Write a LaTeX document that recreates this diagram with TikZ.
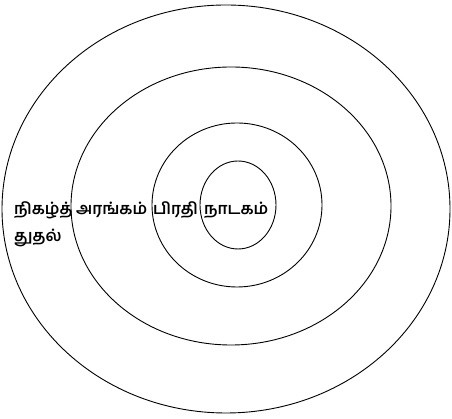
\documentclass[tikz,border=0pt]{standalone}
\usepackage{fontspec}
\newfontfamily\tamilfont[Script=Tamil]{Hind Madurai}
\begin{document}
\begin{tikzpicture}[x=1pt,y=1pt,
  ring/.style={draw=black,line width=0.9pt},
  lbl/.style={font=\tamilfont\bfseries\fontsize{16}{18}\selectfont,inner sep=0pt,anchor=west}]
\useasboundingbox (0,0) rectangle (452,419);
\draw[ring] (226,210) ellipse [x radius=224, y radius=204];
\draw[ring] (231,213) ellipse [x radius=160, y radius=139];
\draw[ring] (237,214) ellipse [x radius=85, y radius=82];
\draw[ring] (238,214) ellipse [x radius=38, y radius=44];
\node[lbl] (n1) at (14,209) {நிகழ்த்};
\node[lbl] (n2) at (14,181) {துதல்};
\node[lbl] (n3) at (76,209) {அரங்கம்};
\node[lbl] (n4) at (153,209) {பிரதி};
\node[lbl] (n5) at (204,209) {நாடகம்};
\end{tikzpicture}
\end{document}
